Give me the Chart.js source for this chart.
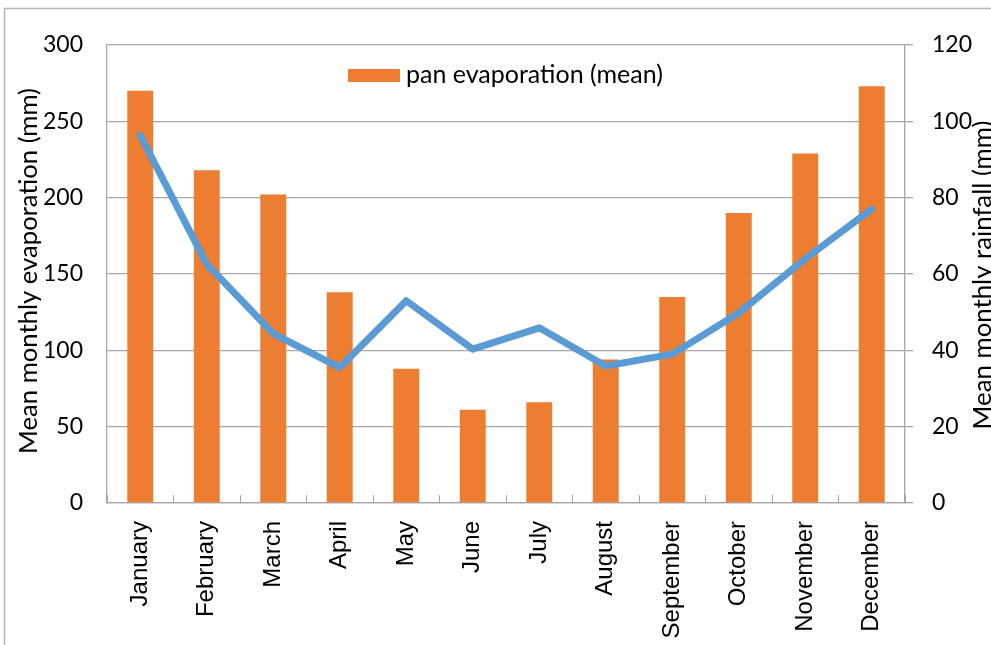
<!DOCTYPE html>
<html>
<head>
<meta charset="utf-8">
<script src="https://cdn.jsdelivr.net/npm/chart.js@4.4.1/dist/chart.umd.min.js"></script>
<style>
  html, body { margin: 0; padding: 0; background: #fff; }
  canvas { display: block; }
</style>
</head>
<body>
<canvas id="chart" width="991" height="645"></canvas>
<script>
// Monthly climate data
const months = ['January', 'February', 'March', 'April', 'May', 'June',
                'July', 'August', 'September', 'October', 'November', 'December'];
const panEvaporation = [270, 218, 202, 138, 88, 61, 66, 94, 135, 190, 229, 273]; // mm
const rainfall = [96.3, 62.6, 44.4, 35.5, 53, 40.3, 45.9, 35.9, 39, 49.8, 64, 77]; // mm

const evapLabel = 'pan evaporation (mean)';
const evapTitle = 'Mean monthly evaporation (mm)';
const rainTitle = 'Mean monthly rainfall (mm)';

const GRID = '#a6a6a6';
const BAR = '#ED7D31';
const LINE = '#5B9BD5';
const UI_FONT = 'Lato';

// Pick a font size so a string spans the wanted length
function fitFont(ctx, text, length, base) {
  ctx.font = base + 'px ' + UI_FONT;
  const w = ctx.measureText(text).width;
  return (base * length / w).toFixed(2) + 'px ' + UI_FONT;
}

function drawRotated(ctx, text, x, y, font) {
  ctx.save();
  ctx.font = font;
  ctx.fillStyle = '#000';
  ctx.textAlign = 'center';
  ctx.textBaseline = 'middle';
  ctx.translate(x, y);
  ctx.rotate(-Math.PI / 2);
  ctx.fillText(text, 0, 0);
  ctx.restore();
}

// Outer frame, the in-plot legend and the two rotated axis titles
const decorations = {
  id: 'decorations',
  afterDatasetsDraw(chart) {
    const ctx = chart.ctx;
    ctx.save();
    ctx.fillStyle = BAR;
    ctx.fillRect(348, 69, 52, 13);
    ctx.fillStyle = '#000';
    ctx.font = fitFont(ctx, evapLabel, 257, 23);
    ctx.textAlign = 'left';
    ctx.textBaseline = 'middle';
    ctx.fillText(evapLabel, 406, 75);
    ctx.restore();
  },
  afterDraw(chart) {
    const ctx = chart.ctx;
    ctx.save();
    ctx.strokeStyle = '#b4b4b4';
    ctx.lineWidth = 1.5;
    ctx.beginPath();
    ctx.moveTo(4.5, chart.height);
    ctx.lineTo(4.5, 8.5);
    ctx.lineTo(chart.width, 8.5);
    ctx.stroke();
    ctx.restore();

    drawRotated(ctx, evapTitle, 29, 271, fitFont(ctx, evapTitle, 366, 23));
    drawRotated(ctx, rainTitle, 983, 275, fitFont(ctx, rainTitle, 309, 23));
  }
};

new Chart(document.getElementById('chart'), {
  data: {
    labels: months,
    datasets: [
      {
        type: 'line',
        label: 'rainfall (mean)',
        data: rainfall,
        yAxisID: 'y1',
        borderColor: LINE,
        backgroundColor: LINE,
        borderWidth: 7,
        borderCapStyle: 'round',
        borderJoinStyle: 'round',
        pointRadius: 0,
        pointHoverRadius: 0,
        tension: 0,
        fill: false,
        order: 0
      },
      {
        type: 'bar',
        label: evapLabel,
        data: panEvaporation,
        yAxisID: 'y',
        backgroundColor: BAR,
        borderWidth: 0,
        barPercentage: 0.39,
        categoryPercentage: 1,
        order: 1
      }
    ]
  },
  options: {
    responsive: false,
    animation: false,
    devicePixelRatio: 1,
    layout: { padding: { top: 45, left: 0, right: 0, bottom: 0 } },
    plugins: {
      tooltip: { enabled: false },
      legend: { display: false }
    },
    scales: {
      x: {
        offset: true,
        grid: {
          offset: true,
          drawOnChartArea: false,
          tickLength: -8,
          color: GRID,
          lineWidth: 1
        },
        border: { color: GRID, width: 1.3 },
        ticks: {
          minRotation: 90,
          maxRotation: 90,
          autoSkip: false,
          padding: 26,
          color: '#000',
          font: { family: '"Liberation Sans", Arial, sans-serif', size: 24 }
        },
        afterFit(scale) { scale.height = 142; }
      },
      y: {
        position: 'left',
        min: 0,
        max: 300,
        ticks: {
          stepSize: 50,
          padding: 24,
          color: '#000',
          font: { family: UI_FONT, size: 23 }
        },
        grid: { color: GRID, lineWidth: 1.3, drawTicks: false },
        border: { color: GRID, width: 1.3 },
        afterFit(scale) { scale.width = 107; }
      },
      y1: {
        position: 'right',
        min: 0,
        max: 120,
        ticks: {
          stepSize: 20,
          padding: 19,
          color: '#000',
          font: { family: UI_FONT, size: 23 }
        },
        grid: { drawOnChartArea: false, tickLength: 8, color: GRID, lineWidth: 1.3 },
        border: { color: GRID, width: 1.3 },
        afterFit(scale) { scale.width = 86; }
      }
    }
  },
  plugins: [decorations]
});
</script>
</body>
</html>
